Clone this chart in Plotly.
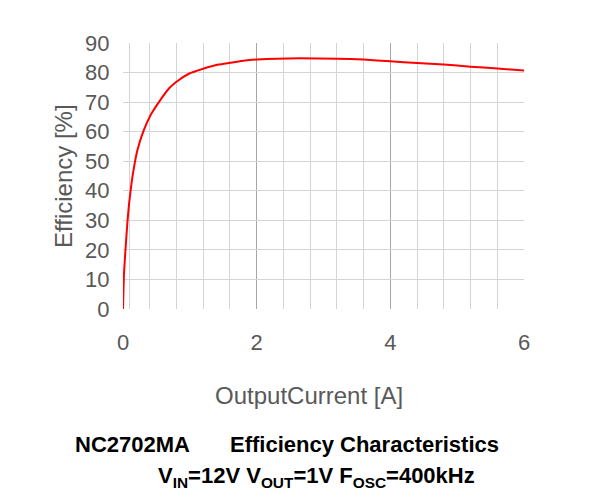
import plotly.graph_objects as go

# Data
current = [0, 0.015, 0.04, 0.065, 0.09, 0.13, 0.165, 0.215, 0.31, 0.41, 0.537, 0.687, 0.8,
           0.985, 1.2, 1.43, 1.6, 1.83, 2.0, 2.3, 2.65, 3.2, 3.6, 4.0, 4.4, 4.8, 5.2, 5.6, 6.0]
efficiency = [0, 12, 21, 29, 35.5, 43, 48, 53.7, 60.4, 65.5, 70, 74.6, 76.9,
              79.6, 81.3, 82.7, 83.3, 84.1, 84.4, 84.7, 84.8, 84.7, 84.4, 83.8, 83.2, 82.7, 82.0, 81.4, 80.7]

x_ticks = [0, 2, 4, 6]
x_minor = [0.1, 0.4, 0.8, 1.2, 1.6, 2.4, 2.8, 3.2, 3.6, 4.4, 4.8, 5.2, 5.6]
y_ticks = [0, 10, 20, 30, 40, 50, 60, 70, 80, 90]

title1a = "NC2702MA"
title1b = "Efficiency Characteristics"
title2 = "V<sub>IN</sub>=12V V<sub>OUT</sub>=1V F<sub>OSC</sub>=400kHz"
x_title = "OutputCurrent [A]"
y_title = "Efficiency [%]"

L, R, T, B = 123, 76, 43, 191
W, H = 600, 500
pw, ph = W - L - R, H - T - B

def px(x):
    return (x - L) / pw

def py(y):
    return (H - B - y) / ph

fig = go.Figure()
fig.add_trace(go.Scatter(x=current, y=efficiency, mode="lines",
                         line=dict(color="#ff0000", width=2, shape="spline", smoothing=0.5),
                         hoverinfo="skip", showlegend=False))

tickfont = dict(family="Liberation Sans, Arial, sans-serif", size=22, color="#595959")

fig.update_layout(
    width=W, height=H,
    margin=dict(l=L, r=R, t=T, b=B),
    paper_bgcolor="white", plot_bgcolor="white",
    xaxis=dict(range=[0, 6], tickvals=x_ticks, ticktext=[str(v) for v in x_ticks],
               showgrid=True, gridcolor="#a6a6a6", gridwidth=1,
               minor=dict(tickvals=x_minor, showgrid=True, gridcolor="#d4d4d4", gridwidth=1,
                          ticks=""),
               zeroline=False, showline=False,
               ticks="outside", ticklen=14, tickcolor="rgba(0,0,0,0)",
               tickfont=tickfont),
    yaxis=dict(range=[0, 90], tickvals=y_ticks, ticktext=[str(v) for v in y_ticks],
               showgrid=True, gridcolor="#d4d4d4", gridwidth=1,
               zeroline=False, showline=False,
               ticks="outside", ticklen=8, tickcolor="rgba(0,0,0,0)",
               tickfont=tickfont),
)

titlefont = dict(family="Liberation Sans, Arial, sans-serif", size=24, color="#595959")
boldfont = dict(family="Liberation Sans, Arial, sans-serif", size=22, color="black")

fig.add_annotation(text=x_title, xref="paper", yref="paper", x=px(309), y=py(395),
                   xanchor="center", yanchor="middle", showarrow=False, font=titlefont)
fig.add_annotation(text=y_title, xref="paper", yref="paper", x=px(63), y=py(176),
                   xanchor="center", yanchor="middle", showarrow=False, font=titlefont,
                   textangle=-90)
fig.add_annotation(text="<b>%s</b>" % title1a, xref="paper", yref="paper", x=px(73), y=py(444),
                   xanchor="left", yanchor="middle", showarrow=False, font=boldfont)
fig.add_annotation(text="<b>%s</b>" % title1b, xref="paper", yref="paper", x=px(228), y=py(444),
                   xanchor="left", yanchor="middle", showarrow=False, font=boldfont)
fig.add_annotation(text="<b>%s</b>" % title2, xref="paper", yref="paper", x=px(316), y=py(477),
                   xanchor="center", yanchor="middle", showarrow=False, font=boldfont)

fig.write_html("out.html")
